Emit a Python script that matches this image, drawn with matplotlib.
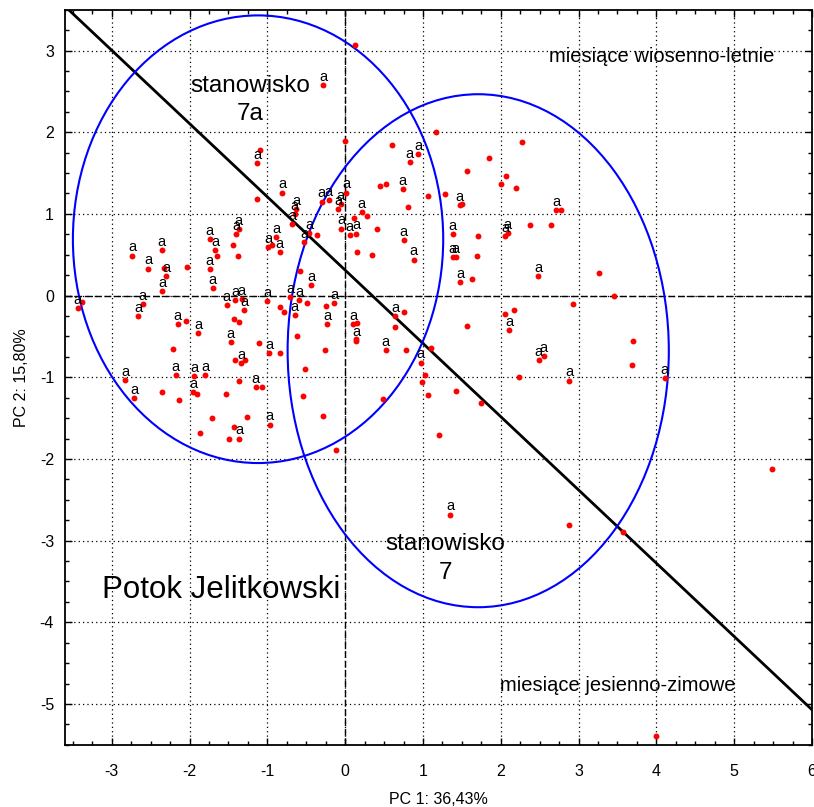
import matplotlib
matplotlib.use("Agg")
import matplotlib.pyplot as plt
from matplotlib.patches import Ellipse
from matplotlib.ticker import MultipleLocator

plt.rcParams['font.family'] = ['Liberation Sans', 'DejaVu Sans']
plt.rcParams['axes.unicode_minus'] = False

# punkty z etykieta "a"
pts_a_x = [-0.28, -1.13, -1.40, -1.37, -1.74, -1.67, -0.99, -0.89, -2.74, -2.36,
           -2.53, -2.30, -1.74, -1.70, -2.35, -3.44, -2.60, -2.66, -1.52, -1.41,
           -1.33, -1.30, -1.00, -2.15, -1.89, -1.47, -0.98, -1.34, -2.18, -1.94,
           -1.80, -1.95, -2.83, -2.71, -1.15, -0.97, -1.36, 0.94, 0.83, -0.81,
           -0.30, -0.21, 0.01, -0.06, -0.09, 0.74, 1.47, -0.65, -0.63, -0.68,
           0.21, -0.05, 0.06, 0.14, 0.75, -0.46, -0.53, -0.84, 0.88, 1.38,
           1.42, 1.38, 1.48, -0.44, -0.71, -0.59, -0.65, -0.14, 0.64, -0.23,
           0.10, 0.14, 0.52, 0.97, 2.71, 2.06, 2.09, 2.48, 2.11, 2.49,
           2.55, 4.11, 2.88, 1.35]
pts_a_y = [2.58, 1.62, 0.75, 0.81, 0.69, 0.56, 0.59, 0.72, 0.49, 0.56,
           0.33, 0.24, 0.32, 0.09, 0.06, -0.15, -0.10, -0.25, -0.12, -0.06,
           -0.04, -0.18, -0.07, -0.35, -0.46, -0.57, -0.70, -0.83, -0.97, -0.99,
           -0.97, -1.18, -1.03, -1.25, -1.12, -1.58, -1.75, 1.73, 1.63, 1.26,
           1.15, 1.17, 1.26, 1.12, 1.06, 1.30, 1.11, 1.00, 1.06, 0.88,
           1.02, 0.82, 0.74, 0.76, 0.68, 0.77, 0.66, 0.53, 0.44, 0.47,
           0.47, 0.75, 0.17, 0.13, -0.02, -0.05, -0.24, -0.09, -0.25, -0.35,
           -0.35, -0.55, -0.67, -0.82, 1.05, 0.73, 0.77, 0.24, -0.42, -0.79,
           -0.74, -1.01, -1.04, -2.68]

# punkty bez etykiety
pts_x = [0.13, -1.10, -1.13, -1.44, -1.38, -1.65, -0.94, -2.33, -2.03, -3.38,
         -0.84, -2.05, -1.43, -1.37, -1.11, -2.21, -1.41, -1.29, -0.84, -2.35,
         -2.13, -1.53, -1.37, -1.07, -1.90, -1.71, -1.26, -1.86, -1.43, -1.49,
         0.00, 0.60, 1.17, 0.45, 0.52, 0.81, 1.07, 1.28, 0.11, 0.28,
         0.41, -0.36, 0.15, 0.35, -0.58, -0.49, -0.79, -0.25, 0.75, 0.15,
         0.14, -0.62, -0.26, -0.52, -0.54, -0.28, -0.12, 0.78, 0.64, 1.10,
         1.03, 0.99, 1.06, 1.43, 0.49, 1.20, 1.74, 2.27, 1.85, 1.57,
         2.07, 2.00, 2.20, 1.50, 2.77, 1.71, 2.38, 2.64, 1.70, 1.63,
         3.26, 3.46, 2.93, 2.06, 2.17, 1.56, 3.70, 3.69, 2.23, 2.88,
         3.57, 3.99, 5.49]
pts_y = [3.07, 1.78, 1.18, 0.62, 0.49, 0.49, 0.62, 0.34, 0.35, -0.08,
         -0.14, -0.31, -0.29, -0.32, -0.58, -0.65, -0.79, -0.79, -0.70, -1.18,
         -1.28, -1.21, -1.05, -1.12, -1.20, -1.50, -1.49, -1.68, -1.61, -1.75,
         1.89, 1.84, 2.00, 1.34, 1.36, 1.09, 1.22, 1.24, 0.95, 0.97,
         0.81, 0.74, 0.53, 0.50, 0.30, -0.09, -0.20, -0.13, -0.20, -0.34,
         -0.53, -0.49, -0.67, -0.90, -1.23, -1.47, -1.89, -0.67, -0.38, -0.64,
         -0.97, -1.06, -1.22, -1.17, -1.26, -1.71, -1.32, 1.88, 1.68, 1.52,
         1.46, 1.36, 1.32, 1.12, 1.05, 0.73, 0.87, 0.87, 0.49, 0.20,
         0.28, -0.01, -0.10, -0.22, -0.18, -0.37, -0.55, -0.85, -1.00, -2.81,
         -2.90, -5.39, -2.12]

# elipsy: srodek x, srodek y, szerokosc, wysokosc
ell_7a = (-1.12, 0.69, 4.76, 5.48)
ell_7 = (1.71, -0.675, 4.90, 6.28)

# linia podzialu sezonow
line_x = [-3.6, 6.0]
line_y = [3.54, -5.07]

fig = plt.figure(figsize=(8.14, 8.07), dpi=100)
ax = fig.add_axes([0.080, 0.077, 0.9175, 0.911])

ax.set_xlim(-3.6, 6.0)
ax.set_ylim(-5.5, 3.5)
ax.xaxis.set_major_locator(MultipleLocator(1))
ax.yaxis.set_major_locator(MultipleLocator(1))
ax.xaxis.set_minor_locator(MultipleLocator(0.25))
ax.yaxis.set_minor_locator(MultipleLocator(0.25))
ax.tick_params(which='both', direction='in', top=True, right=True,
               labelsize=11.5, width=1)
ax.tick_params(which='major', length=5)
ax.tick_params(axis='x', which='major', pad=14)
ax.tick_params(axis='y', which='major', pad=8)
ax.tick_params(which='minor', length=3)
ax.grid(True, which='major', linestyle=(0, (1, 2.5)), color='black', linewidth=0.9)
for s in ax.spines.values():
    s.set_linewidth(1.3)

ax.axhline(0, color='black', linestyle=(0, (5, 2)), linewidth=1.0, zorder=1)
ax.axvline(0, color='black', linestyle=(0, (5, 2)), linewidth=1.0, zorder=1)

ax.plot(line_x, line_y, color='black', linewidth=2.0, zorder=3)

for cx, cy, w, h in (ell_7a, ell_7):
    ax.add_patch(Ellipse((cx, cy), w, h, fill=False, edgecolor='#0000ff',
                         linewidth=1.5, zorder=3))

ax.scatter(pts_x, pts_y, s=18, color='#ff0000', zorder=4, linewidths=0)
ax.scatter(pts_a_x, pts_a_y, s=18, color='#ff0000', zorder=4, linewidths=0)
for x, y in zip(pts_a_x, pts_a_y):
    ax.annotate('a', (x, y), xytext=(0, 3), textcoords='offset points',
                ha='center', va='baseline', fontsize=10.5, zorder=5)

ax.text(-1.22, 2.40, 'stanowisko\n7a', ha='center', va='center',
        fontsize=17.5, linespacing=1.35)
ax.text(1.29, -3.22, 'stanowisko\n7', ha='center', va='center',
        fontsize=17.5, linespacing=1.4)
ax.text(-1.6, -3.6, 'Potok Jelitkowski', ha='center', va='center', fontsize=22.5)
ax.text(4.07, 2.93, 'miesiące wiosenno-letnie', ha='center', va='center', fontsize=14.5)
ax.text(3.5, -4.77, 'miesiące jesienno-zimowe', ha='center', va='center', fontsize=14.5)

ax.set_xlabel('PC 1: 36,43%', fontsize=11.5, labelpad=9)
ax.set_ylabel('PC 2: 15,80%', fontsize=11.5, labelpad=8)

fig.savefig('out.png', dpi=100)
